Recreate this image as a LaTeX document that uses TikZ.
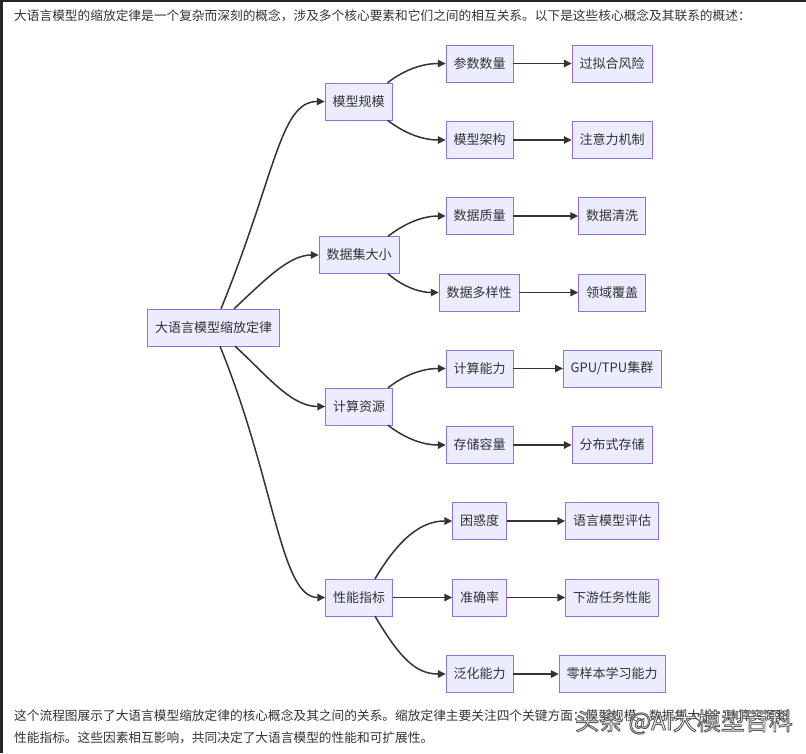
\documentclass[tikz,border=0pt]{standalone}
\usepackage{fontspec}
\setmainfont{Noto Sans CJK SC}
\usetikzlibrary{arrows.meta}
\definecolor{boxfill}{HTML}{ECECFF}
\definecolor{boxline}{HTML}{9370DB}
\definecolor{ink}{HTML}{333333}
\newcommand{\outlined}[1]{\special{pdf:code q 0.35 G 0.9 w 1 j 2 Tr}#1\special{pdf:code Q}}
\begin{document}
\begin{tikzpicture}[x=1pt,y=-1pt,
    box/.style={draw=boxline, fill=boxfill, text=ink, minimum height=37pt, inner xsep=7.5pt, font=\fontsize{13}{15}\selectfont},
    link/.style={ink, line width=1.5pt, -{Triangle[length=8pt,width=7.5pt]}},
    prose/.style={anchor=base west, text=ink, inner sep=0pt, font=\fontsize{12.7}{15}\selectfont}]
                \useasboundingbox (0,0) rectangle (806,753);
                \fill[black!85] (0,0) rectangle (3,753);
                \fill[black!85] (0,0) rectangle (806,2);

                \node[prose] (intro) at (14,20) {大语言模型的缩放定律是一个复杂而深刻的概念，涉及多个核心要素和它们之间的相互关系。以下是这些核心概念及其联系的概述：};

                \node[box] (law) at (213.5,327.5) {大语言模型缩放定律};

                \node[box] (scale) at (358.5,101.5) {模型规模};
                \node[box] (data) at (359,255) {数据集大小};
                \node[box] (compute) at (359,406.5) {计算资源};
                \node[box] (perf) at (359,597.5) {性能指标};

                \node[box] (params) at (479.5,63.5) {参数数量};
                \node[box] (overfit) at (612,63.5) {过拟合风险};
                \node[box] (arch) at (479.5,140) {模型架构};
                \node[box] (attn) at (612,140) {注意力机制};

                \node[box] (quality) at (479.5,216) {数据质量};
                \node[box] (clean) at (612,216) {数据清洗};
                \node[box] (diverse) at (479,292.5) {数据多样性};
                \node[box] (domain) at (612,292.5) {领域覆盖};

                \node[box] (power) at (479.5,368.5) {计算能力};
                \node[box] (cluster) at (612,368.5) {GPU/TPU集群};
                \node[box] (storage) at (479.5,445) {存储容量};
                \node[box] (distrib) at (612,445) {分布式存储};

                \node[box] (ppl) at (479.5,521) {困惑度};
                \node[box] (evalm) at (612,521) {语言模型评估};
                \node[box] (acc) at (479.5,597.5) {准确率};
                \node[box] (downstream) at (612,597.5) {下游任务性能};
                \node[box] (general) at (479.5,674) {泛化能力};
                \node[box] (zeroshot) at (612,674) {零样本学习能力};

                % root to the four factors
                \draw[link] ([xshift=7.5pt]law.north) .. controls +(55,-135) and +(-45,0) .. (scale.west);
                \draw[link] ([xshift=20.5pt]law.north) .. controls +(30,-28) and +(-30,0) .. (data.west);
                \draw[link] ([xshift=21.5pt]law.south) .. controls +(30,27) and +(-35,0) .. (compute.west);
                \draw[link] ([xshift=6.5pt]law.south) .. controls +(55,135) and +(-45,0) .. (perf.west);

                % factors to sub-items
                \draw[link] ([xshift=29pt]scale.north) .. controls +(18,-14) and +(-22,0) .. (params.west);
                \draw[link] ([xshift=29pt]scale.south) .. controls +(18,14) and +(-22,0) .. (arch.west);
                \draw[link] ([xshift=29pt]data.north) .. controls +(18,-14) and +(-22,0) .. (quality.west);
                \draw[link] ([xshift=29pt]data.south) .. controls +(16,14) and +(-18,0) .. (diverse.west);
                \draw[link] ([xshift=29pt]compute.north) .. controls +(18,-14) and +(-22,0) .. (power.west);
                \draw[link] ([xshift=29pt]compute.south) .. controls +(18,14) and +(-22,0) .. (storage.west);
                \draw[link] ([xshift=16pt]perf.north) .. controls +(25,-42) and +(-30,0) .. (ppl.west);
                \draw[link] (perf) -- (acc);
                \draw[link] ([xshift=16pt]perf.south) .. controls +(25,42) and +(-30,0) .. (general.west);

                % sub-items to effects
                \draw[link] (params) -- (overfit);
                \draw[link] (arch) -- (attn);
                \draw[link] (quality) -- (clean);
                \draw[link] (diverse) -- (domain);
                \draw[link] (power) -- (cluster);
                \draw[link] (storage) -- (distrib);
                \draw[link] (ppl) -- (evalm);
                \draw[link] (acc) -- (downstream);
                \draw[link] (general) -- (zeroshot);

                \node[prose] (sum1) at (14,720) {这个流程图展示了大语言模型缩放定律的核心概念及其之间的关系。缩放定律主要关注四个关键方面：模型规模、数据集大小、计算资源和};
                \node[prose] (sum2) at (14,742) {性能指标。这些因素相互影响，共同决定了大语言模型的性能和可扩展性。};

                \node[text=white, font=\fontsize{24}{26}\selectfont] (mark) at (684,722) {\outlined{头条 @AI大模型百科}};
\end{tikzpicture}
\end{document}
